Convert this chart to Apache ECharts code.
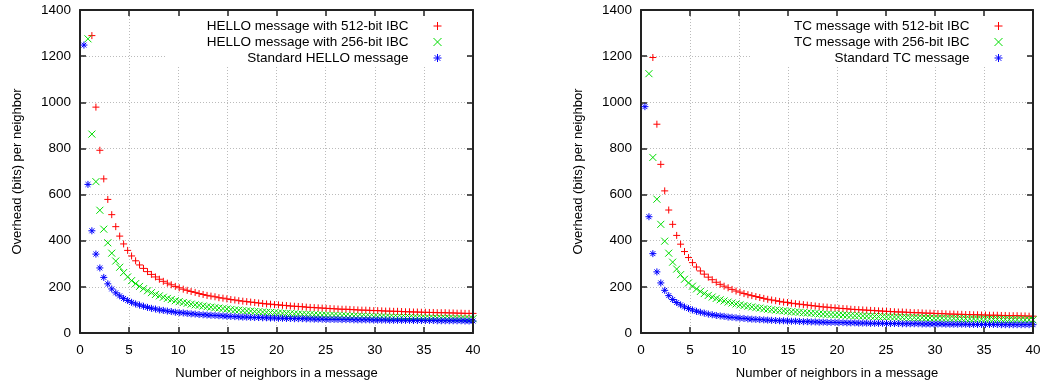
<!DOCTYPE html>
<html>
<head>
<meta charset="utf-8">
<script src="https://cdn.jsdelivr.net/npm/echarts@6/dist/echarts.min.js"></script>
<style>
  html, body { margin: 0; padding: 0; background: #fff; }
  #main { width: 1044px; height: 385px; }
</style>
</head>
<body>
<div id="main"></div>
<script>
'use strict';

/* sample positions (number of neighbors), shared by every curve */
var xs = [0.40,0.81,1.21,1.62,2.02,2.42,2.83,3.23,3.64,4.04,4.44,4.85,5.25,5.66,6.06,6.46,6.87,7.27,7.68,8.08,
  8.48,8.89,9.29,9.70,10.10,10.51,10.91,11.31,11.72,12.12,12.53,12.93,13.33,13.74,14.14,14.55,14.95,15.35,15.76,16.16,
  16.57,16.97,17.37,17.78,18.18,18.59,18.99,19.39,19.80,20.20,20.61,21.01,21.41,21.82,22.22,22.63,23.03,23.43,23.84,24.24,
  24.65,25.05,25.45,25.86,26.26,26.67,27.07,27.47,27.88,28.28,28.69,29.09,29.49,29.90,30.30,30.71,31.11,31.52,31.92,32.32,
  32.73,33.13,33.54,33.94,34.34,34.75,35.15,35.56,35.96,36.36,36.77,37.17,37.58,37.98,38.38,38.79,39.19,39.60,40.00];

/* HELLO panel */
var helloIbc512 = [null,null,1289,979,792,668,579,513,461,420,386,358,334,313,295,280,266,254,243,233,
  224,216,209,202,196,190,185,180,176,171,167,163,160,157,153,151,148,145,143,140,
  138,136,134,132,130,128,126,125,123,122,120,119,117,116,115,114,112,111,110,109,
  108,107,106,105,104,103,103,102,101,100,99,99,98,97,97,96,95,95,94,94,
  93,92,92,91,91,90,90,89,89,88,88,88,87,87,86,86,85,85,85];
var helloIbc256 = [null,1275,862,656,532,450,391,346,312,285,262,243,227,214,202,192,183,175,167,161,
  155,150,145,140,136,132,129,125,122,120,117,114,112,110,108,106,104,102,100,99,
  97,96,95,93,92,91,90,89,88,87,86,85,84,83,82,81,80,80,79,78,
  78,77,76,76,75,75,74,73,73,72,72,71,71,70,70,70,69,69,68,68,
  68,67,67,66,66,66,65,65,65,64,64,64,64,63,63,63,62,62,62];
var helloStd = [1248,644,443,342,282,241,213,191,174,161,150,141,133,126,121,116,111,107,104,100,
  98,95,93,90,88,87,85,83,82,80,79,78,77,76,75,74,73,72,71,70,
  69,69,68,67,67,66,66,65,65,64,64,63,63,62,62,62,61,61,60,60,
  60,59,59,59,59,58,58,58,57,57,57,57,57,56,56,56,56,55,55,55,
  55,55,55,54,54,54,54,54,54,53,53,53,53,53,53,53,52,52,52];

/* TC panel */
var tcIbc512 = [null,null,1194,905,731,616,533,471,423,385,353,327,305,286,269,255,242,231,220,211,
  203,196,189,182,177,171,166,162,158,154,150,146,143,140,137,134,132,129,127,125,
  123,121,119,117,115,113,112,110,109,107,106,105,103,102,101,100,99,98,97,96,
  95,94,93,92,91,91,90,89,88,88,87,86,86,85,84,84,83,82,82,81,
  81,80,80,79,79,78,78,77,77,77,76,76,75,75,75,74,74,73,73];
var tcIbc256 = [null,1124,761,580,471,398,346,307,277,253,233,217,203,191,180,171,163,156,150,144,
  139,134,130,126,122,119,116,113,110,108,105,103,101,99,97,96,94,92,91,90,
  88,87,86,85,83,82,81,80,79,79,78,77,76,75,75,74,73,73,72,71,
  71,70,70,69,69,68,68,67,67,66,66,65,65,64,64,64,63,63,63,62,
  62,62,61,61,61,60,60,60,59,59,59,59,58,58,58,58,57,57,57];
var tcStd = [981,504,344,265,217,185,162,145,132,122,113,106,100,94,90,86,82,79,76,74,
  72,69,68,66,64,63,61,60,59,58,57,56,55,54,53,53,52,51,51,50,
  49,49,48,48,47,47,46,46,46,45,45,44,44,44,43,43,43,42,42,42,
  42,41,41,41,41,40,40,40,40,40,39,39,39,39,39,39,38,38,38,38,
  38,38,37,37,37,37,37,37,37,37,36,36,36,36,36,36,36,36,36];

var xTicks = { min: 0, max: 40, interval: 5 };
var yTicks = { min: 0, max: 1400, interval: 200 };

var helloNames = ['HELLO message with 512-bit IBC', 'HELLO message with 256-bit IBC', 'Standard HELLO message'];
var tcNames = ['TC message with 512-bit IBC', 'TC message with 256-bit IBC', 'Standard TC message'];

var xTitle = 'Number of neighbors in a message';
var yTitle = 'Overhead (bits) per neighbor';

var FONT = 'Liberation Sans';
var colors = ['#ff0000', '#00dd00', '#0000ff'];
var symbols = [
  'path://M5,0L5,10M0,5L10,5',
  'path://M0,0L10,10M10,0L0,10',
  'path://M5,0L5,10M0,5L10,5M1.5,1.5L8.5,8.5M8.5,1.5L1.5,8.5'
];

function pairs(vals) {
  var out = [];
  for (var i = 0; i < xs.length; i++) {
    if (vals[i] != null) out.push([xs[i], vals[i]]);
  }
  return out;
}

function scatter(name, vals, k, idx) {
  return {
    type: 'scatter',
    name: name,
    xAxisIndex: idx,
    yAxisIndex: idx,
    data: pairs(vals),
    symbol: symbols[k],
    symbolSize: 7,
    clip: true,
    itemStyle: { color: 'none', borderColor: colors[k], borderWidth: 1, opacity: 1 },
    emphasis: { disabled: true }
  };
}

var axisLine = { show: true, onZero: false, lineStyle: { color: '#222', width: 2 } };
var tick = { show: true, inside: true, length: 6, lineStyle: { color: '#222', width: 1.5 } };
var split = { show: true, lineStyle: { color: '#bbbbbb', width: 1, type: [1, 2] } };

function bottomX(g) {
  return {
    type: 'value', gridIndex: g, position: 'bottom',
    min: xTicks.min, max: xTicks.max, interval: xTicks.interval,
    name: xTitle, nameLocation: 'middle', nameGap: 34,
    nameTextStyle: { fontFamily: FONT, fontSize: 13, color: '#000' },
    axisLine: axisLine, axisTick: tick, splitLine: split,
    axisLabel: { fontFamily: FONT, fontSize: 13.5, color: '#000', margin: 10 }
  };
}
// mirror axes sit above the legend box, like gnuplot's border
function topX(g) {
  return {
    type: 'value', gridIndex: g, position: 'top', z: 10,
    min: xTicks.min, max: xTicks.max, interval: xTicks.interval,
    axisLine: axisLine, axisTick: tick, splitLine: { show: false }, axisLabel: { show: false }
  };
}
function leftY(g) {
  return {
    type: 'value', gridIndex: g, position: 'left',
    min: yTicks.min, max: yTicks.max, interval: yTicks.interval,
    name: yTitle, nameLocation: 'middle', nameGap: 56,
    nameTextStyle: { fontFamily: FONT, fontSize: 13, color: '#000' },
    axisLine: axisLine, axisTick: tick, splitLine: split,
    axisLabel: { fontFamily: FONT, fontSize: 13.5, color: '#000', margin: 9,
      formatter: function (v) { return String(v); } }
  };
}
function rightY(g) {
  return {
    type: 'value', gridIndex: g, position: 'right', z: 10,
    min: yTicks.min, max: yTicks.max, interval: yTicks.interval,
    axisLine: axisLine, axisTick: tick, splitLine: { show: false }, axisLabel: { show: false }
  };
}

function legendFor(names, right, pad) {
  return {
    data: names,
    orient: 'vertical',
    align: 'right',
    right: right,
    top: 12,
    itemWidth: 48,
    itemHeight: 8,
    itemGap: 0,
    symbolKeepAspect: true,
    padding: pad,
    backgroundColor: '#fff',
    selectedMode: false,
    itemStyle: { borderWidth: 1 },
    textStyle: { fontFamily: FONT, fontSize: 13.5, color: '#000', lineHeight: 16 }
  };
}

var chart = echarts.init(document.getElementById('main'), null, { renderer: 'canvas' });
chart.setOption({
  animation: false,
  backgroundColor: '#fff',
  grid: [
    { left: 80, top: 10, width: 393, height: 324 },
    { left: 641, top: 10, width: 392, height: 324 }
  ],
  xAxis: [bottomX(0), bottomX(1), topX(0), topX(1)],
  yAxis: [leftY(0), leftY(1), rightY(0), rightY(1)],
  legend: [
    legendFor(helloNames, 578, [6, 22, 0, 41]),
    legendFor(tcNames, 18, [6, 21, 0, 43])
  ],
  series: [
    scatter(helloNames[0], helloIbc512, 0, 0),
    scatter(helloNames[1], helloIbc256, 1, 0),
    scatter(helloNames[2], helloStd, 2, 0),
    scatter(tcNames[0], tcIbc512, 0, 1),
    scatter(tcNames[1], tcIbc256, 1, 1),
    scatter(tcNames[2], tcStd, 2, 1)
  ]
});
</script>
</body>
</html>
